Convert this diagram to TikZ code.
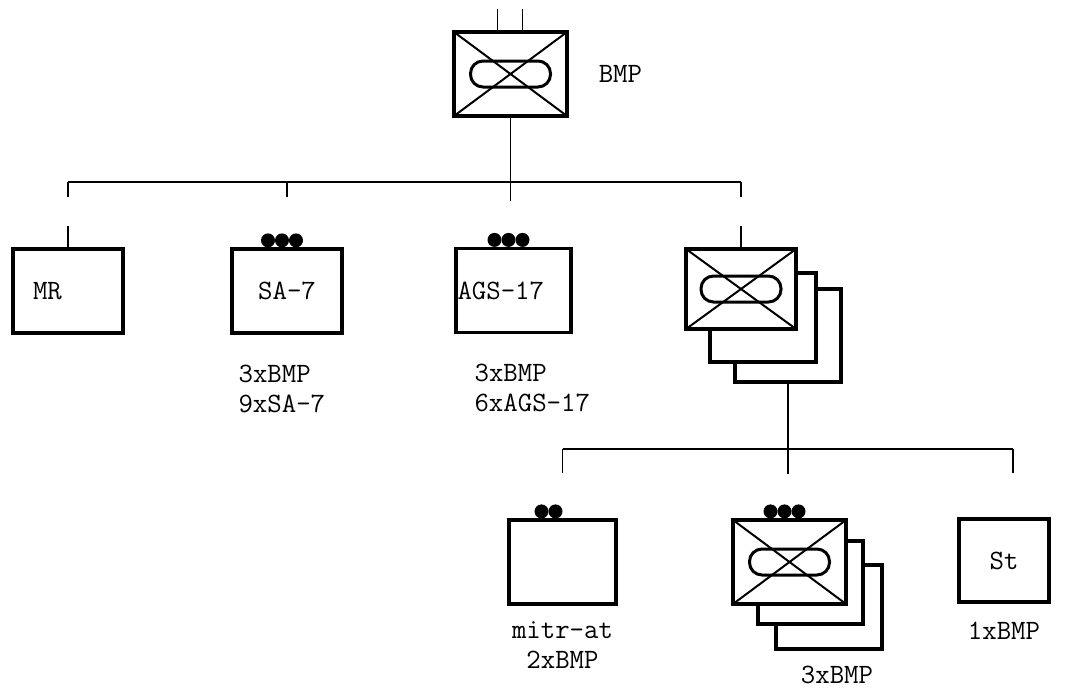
\documentclass[tikz,border=0pt]{standalone}
\usetikzlibrary{positioning}

\begin{document}
\begin{tikzpicture}[
  x=1pt, y=-1pt,
  every node/.style={font=\fontsize{28}{30}\selectfont\ttfamily},
  unit/.style={rectangle, draw, line width=3.2pt, fill=white, inner sep=0pt, minimum width=110pt, minimum height=84pt},
  bmp/.style={unit, path picture={
      \draw[line width=2pt] (path picture bounding box.north west) -- (path picture bounding box.south east)
        (path picture bounding box.south west) -- (path picture bounding box.north east);
      \draw[line width=3pt, rounded corners=12.5pt] ([shift={(-40pt,-13pt)}]path picture bounding box.center)
        rectangle ([shift={(40pt,13pt)}]path picture bounding box.center);}},
  info/.style={inner sep=0pt, align=left},
  link/.style={draw, line width=1.8pt},
]
  \useasboundingbox (0,0) rectangle (1065,689);

  % battalion
  \node[bmp, minimum width=113pt, minimum height=84pt] (top) at (510.5,74) {};
  \node[info, right=30pt of top] (toplbl) {BMP};

  % first level
  \node[unit, text width=70pt, align=left] (mr) at (68,291) {MR};
  \node[unit] (sa) at (287,291) {SA-7};
  \node[unit, minimum width=115pt, text width=112pt, align=left] (ags) at (513.5,290.5) {AGS-17};
  \node[unit, minimum width=106pt, minimum height=93pt] (coyc) at (788,335.5) {};
  \node[unit, minimum width=106pt, minimum height=89pt] (coyb) at (763,317.5) {};
  \node[bmp, minimum width=110pt, minimum height=80pt] (coy) at (741,289) {};

  \node[info, below right=30pt and 8pt of sa.south west] (sainfo) {3xBMP\\9xSA-7};
  \node[info, below right=30pt and 20pt of ags.south west] (agsinfo) {3xBMP\\6xAGS-17};

  % second level
  \node[unit, minimum width=107pt] (mitr) at (562.5,562) {};
  \node[unit, minimum width=106pt, minimum height=84pt] (pltc) at (829,607) {};
  \node[unit, minimum width=105pt, minimum height=83pt] (pltb) at (810.5,582.5) {};
  \node[bmp, minimum width=113pt] (plt) at (789.5,562) {};
  \node[unit, minimum width=90pt, minimum height=83pt] (st) at (1004,560.5) {St};

  \node[info, align=center, below=16pt of mitr] (mitrinfo) {mitr-at\\2xBMP};
  \node[info, below=15pt of pltc, xshift=8pt] (pltinfo) {3xBMP};
  \node[info, below=18pt of st] (stinfo) {1xBMP};

  % weapons
  \foreach \dx in {-19,-5,9} {
    \fill ([xshift=\dx pt, yshift=7pt]sa.north) circle (7pt);
    \fill ([xshift=\dx pt, yshift=7pt]ags.north) circle (7pt);
    \fill ([xshift=\dx pt, yshift=7pt]plt.north) circle (7pt);
  }
  \foreach \dx in {-21,-7}
    \fill ([xshift=\dx pt, yshift=7pt]mitr.north) circle (7pt);

  % connections
  \coordinate (bus1) at (510,182);
  \coordinate (bus2) at (787,449);
  \coordinate (stdrop) at ([xshift=9pt]st.north);

  \draw[link] ([xshift=-13pt]top.north) -- ++(0,21pt);
  \draw[link] ([xshift=12pt]top.north) -- ++(0,21pt);
  \draw[link] (top.south) -- ++(0,-83pt);
  \draw[link] (mr.north |- bus1) -- (coy.north |- bus1);
  \foreach \n in {mr, sa, coy}
    \draw[link] (\n.north |- bus1) -- ++(0,-15pt);
  \draw[link] (mr.north) -- ++(0,21pt);
  \draw[link] (coy.north) -- ++(0,21pt);

  \draw[link] (coyc.south) -- ++(0,-90pt);
  \draw[link] (mitr.north |- bus2) -- (stdrop |- bus2);
  \foreach \n in {mitr, stdrop}
    \draw[link] (\n |- bus2) -- ++(0,-24pt);
\end{tikzpicture}
\end{document}
